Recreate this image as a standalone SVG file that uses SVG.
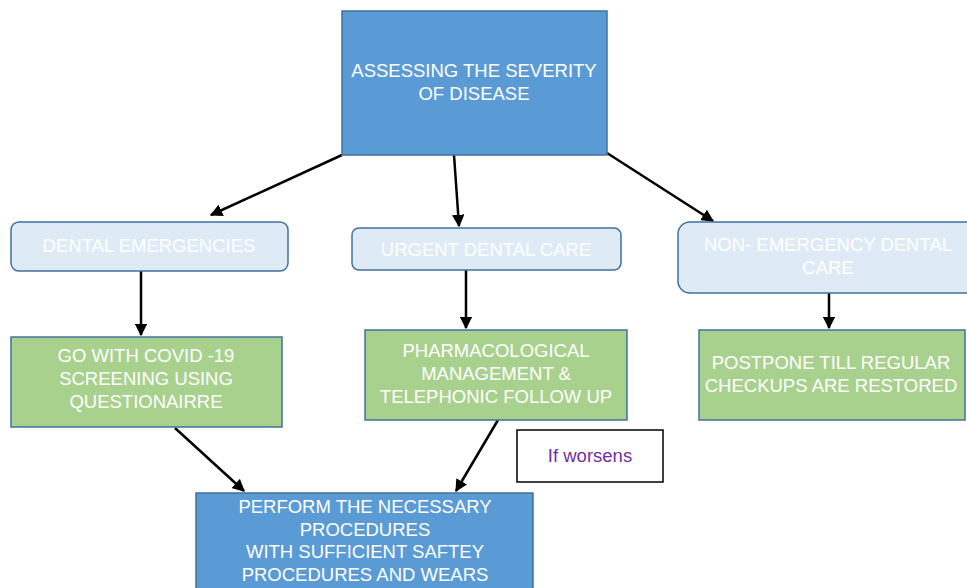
<svg xmlns="http://www.w3.org/2000/svg" width="967" height="588" viewBox="0 0 967 588">
<defs>
<style>
.t{font-family:"Liberation Sans",Arial,sans-serif;font-size:18.5px;fill:#FFFFFF;text-anchor:middle}
.blue{fill:#5B9BD5;stroke:#41719C;stroke-width:1.5}
.light{fill:#DEEBF7;stroke:#41719C;stroke-width:1.5}
.green{fill:#A9D18E;stroke:#41719C;stroke-width:1.5}
.c{stroke:#000;stroke-width:2.5;fill:none;marker-end:url(#ah)}
</style>
<marker id="ah" viewBox="0 0 10 10" refX="9" refY="5" markerWidth="5" markerHeight="5" orient="auto" markerUnits="strokeWidth">
<path d="M0,0 L10,5 L0,10 Z" fill="#000"/>
</marker>
</defs>
<rect width="967" height="588" fill="#FFFFFF"/>
<g id="connectors">
<line class="c" x1="342" y1="155" x2="211" y2="215"/>
<line class="c" x1="454" y1="155" x2="459" y2="226"/>
<line class="c" x1="607" y1="153" x2="713" y2="221"/>
<line class="c" x1="141" y1="271" x2="141" y2="335"/>
<line class="c" x1="466" y1="270" x2="466" y2="328"/>
<line class="c" x1="829" y1="293" x2="829" y2="328"/>
<line class="c" x1="175" y1="428" x2="244" y2="491"/>
<line class="c" x1="498" y1="420" x2="456" y2="491"/>
</g>
<g id="assess">
<rect class="blue" x="342" y="11" width="265" height="144"/>
<text class="t" x="474" y="77">ASSESSING THE SEVERITY</text>
<text class="t" x="474" y="100">OF DISEASE</text>
</g>
<g id="dental-emergencies">
<rect class="light" x="11" y="222" width="277" height="49" rx="8"/>
<text class="t" x="149" y="252">DENTAL EMERGENCIES</text>
</g>
<g id="urgent">
<rect class="light" x="352" y="228" width="269" height="42" rx="7"/>
<text class="t" x="486" y="256">URGENT DENTAL CARE</text>
</g>
<g id="non-emergency">
<rect class="light" x="678" y="222" width="300" height="71" rx="12"/>
<text class="t" x="828" y="251">NON- EMERGENCY DENTAL</text>
<text class="t" x="828" y="274">CARE</text>
</g>
<g id="covid">
<rect class="green" x="11" y="337" width="271" height="90"/>
<text class="t" x="146" y="362">GO WITH COVID -19</text>
<text class="t" x="146" y="385">SCREENING USING</text>
<text class="t" x="146" y="408">QUESTIONAIRRE</text>
</g>
<g id="pharma">
<rect class="green" x="365" y="330" width="262" height="90"/>
<text class="t" x="496" y="357">PHARMACOLOGICAL</text>
<text class="t" x="496" y="380">MANAGEMENT &amp;</text>
<text class="t" x="496" y="403">TELEPHONIC FOLLOW UP</text>
</g>
<g id="postpone">
<rect class="green" x="699" y="330" width="266" height="90"/>
<text class="t" x="831" y="369">POSTPONE TILL REGULAR</text>
<text class="t" x="831" y="392">CHECKUPS ARE RESTORED</text>
</g>
<g id="perform">
<rect class="blue" x="196" y="493" width="337" height="110"/>
<text class="t" x="365" y="513">PERFORM THE NECESSARY</text>
<text class="t" x="365" y="536">PROCEDURES</text>
<text class="t" x="365" y="558">WITH SUFFICIENT SAFTEY</text>
<text class="t" x="365" y="581">PROCEDURES AND WEARS</text>
</g>
<g id="if-worsens">
<rect x="517" y="430" width="146" height="52" fill="#FFFFFF" stroke="#000" stroke-width="1.5"/>
<text x="590" y="462" style="font-family:'Liberation Sans',Arial,sans-serif;font-size:18.5px;fill:#7030A0;text-anchor:middle">If worsens</text>
</g>
</svg>
